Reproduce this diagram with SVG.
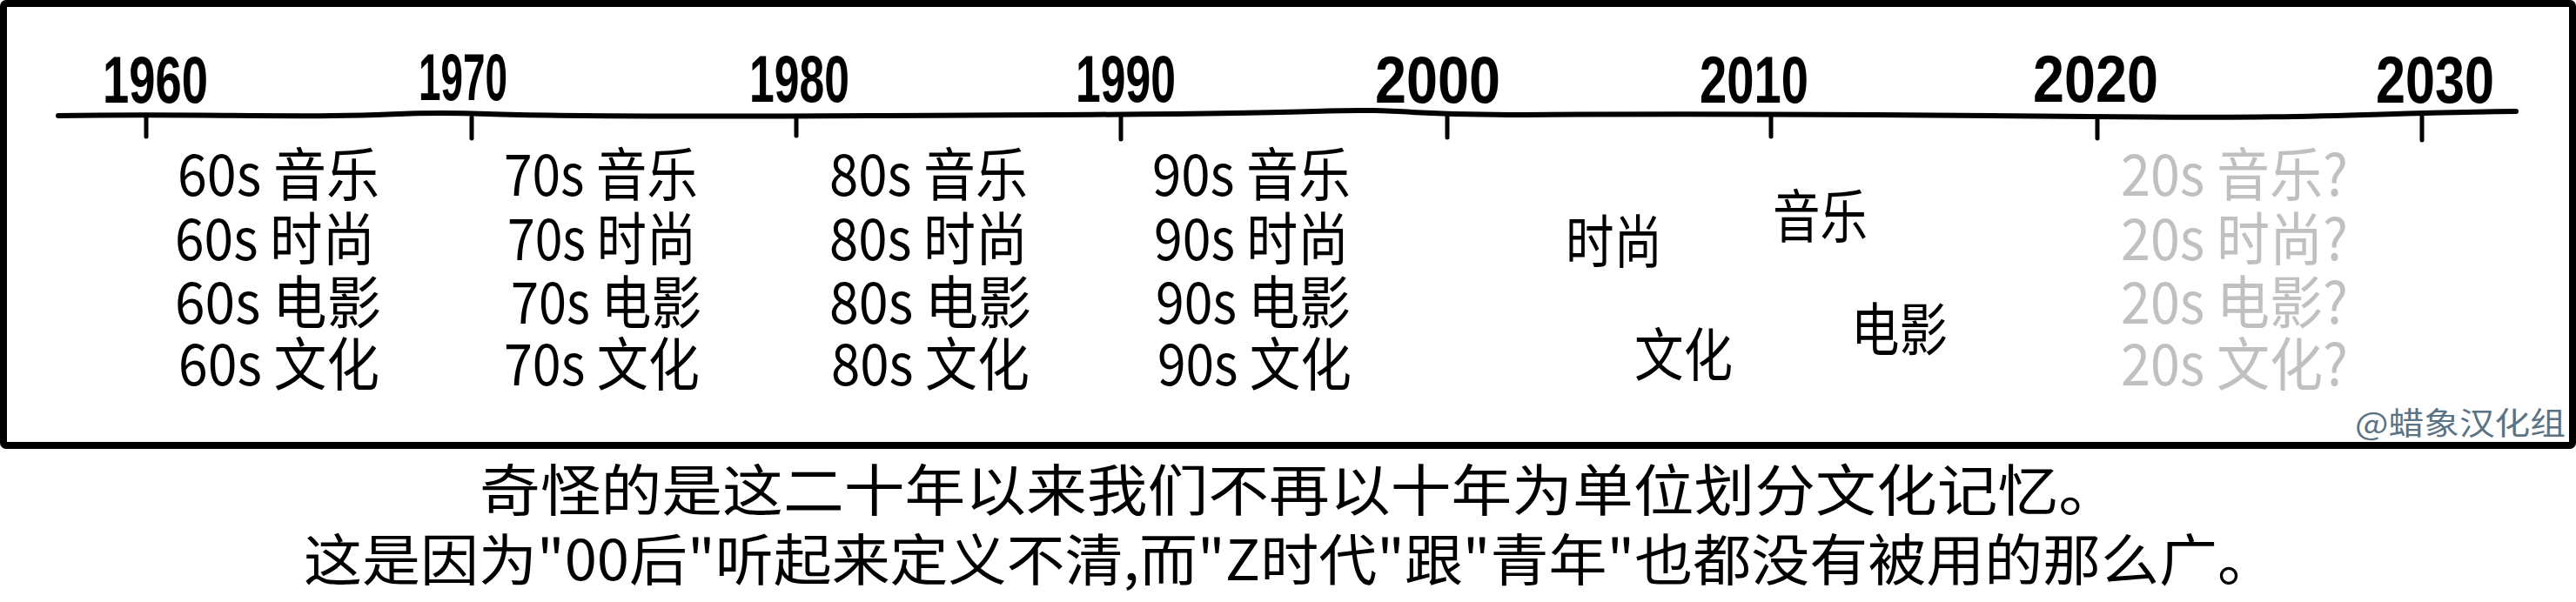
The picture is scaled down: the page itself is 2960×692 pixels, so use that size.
<svg xmlns="http://www.w3.org/2000/svg" width="2960" height="692" viewBox="0 0 2960 692">
<style>
.frame{fill:#fff;stroke:#000;stroke-width:8}
.axis{fill:none;stroke:#000;stroke-width:6;stroke-linecap:round;stroke-linejoin:round}
.tick{stroke:#000;stroke-width:5;stroke-linecap:round}
.yr{font-family:"Liberation Sans","DejaVu Sans",sans-serif;font-weight:bold;font-size:76px;fill:#000}
.t{font-family:"Noto Sans CJK SC","Noto Sans",sans-serif;font-size:66px;fill:#000}
.g{fill:#c0c0c0}
.w{font-family:"Noto Sans CJK SC","Noto Sans",sans-serif;font-size:36px;fill:#5b7383}
.cap{font-family:"Noto Sans CJK SC","Noto Sans",sans-serif;font-size:64px;fill:#000}
</style>
<rect width="2960" height="692" fill="#fff"/>
<rect class="frame" x="4" y="4" width="2952" height="508" rx="3"/>
<g id="timeline">
<path class="axis" d="M67,133 C200,131 300,134 383,133 S470,128 560,131 S800,134 1000,133 S1400,132 1510,128 S1620,133 1750,132 S2100,131 2400,134 S2700,130 2891,128"/>
<line class="tick" x1="168" y1="135" x2="168" y2="157"/>
<line class="tick" x1="542" y1="135" x2="542" y2="159"/>
<line class="tick" x1="915" y1="135" x2="915" y2="156"/>
<line class="tick" x1="1288" y1="135" x2="1288" y2="160"/>
<line class="tick" x1="1663" y1="134" x2="1663" y2="158"/>
<line class="tick" x1="2035" y1="134" x2="2035" y2="157"/>
<line class="tick" x1="2410" y1="135" x2="2410" y2="159"/>
<line class="tick" x1="2783" y1="133" x2="2783" y2="161"/>
</g>
<g id="years">
<text class="yr" x="118" y="118" textLength="121" lengthAdjust="spacingAndGlyphs">1960</text>
<text class="yr" x="481" y="115" textLength="102" lengthAdjust="spacingAndGlyphs">1970</text>
<text class="yr" x="861" y="117" textLength="115" lengthAdjust="spacingAndGlyphs">1980</text>
<text class="yr" x="1236" y="117" textLength="115" lengthAdjust="spacingAndGlyphs">1990</text>
<text class="yr" x="1580" y="118" textLength="144" lengthAdjust="spacingAndGlyphs">2000</text>
<text class="yr" x="1953" y="118" textLength="125" lengthAdjust="spacingAndGlyphs">2010</text>
<text class="yr" x="2336" y="117" textLength="144" lengthAdjust="spacingAndGlyphs">2020</text>
<text class="yr" x="2730" y="118" textLength="136" lengthAdjust="spacingAndGlyphs">2030</text>
</g>
<g id="d60">
<text class="t" x="204" y="225" textLength="232" lengthAdjust="spacingAndGlyphs">60s 音乐</text>
<text class="t" x="201" y="299" textLength="230" lengthAdjust="spacingAndGlyphs">60s 时尚</text>
<text class="t" x="201" y="372" textLength="237" lengthAdjust="spacingAndGlyphs">60s 电影</text>
<text class="t" x="205" y="443" textLength="231" lengthAdjust="spacingAndGlyphs">60s 文化</text>
</g>
<g id="d70">
<text class="t" x="579" y="225" textLength="223" lengthAdjust="spacingAndGlyphs">70s 音乐</text>
<text class="t" x="583" y="299" textLength="217" lengthAdjust="spacingAndGlyphs">70s 时尚</text>
<text class="t" x="587" y="372" textLength="219" lengthAdjust="spacingAndGlyphs">70s 电影</text>
<text class="t" x="579" y="443" textLength="225" lengthAdjust="spacingAndGlyphs">70s 文化</text>
</g>
<g id="d80">
<text class="t" x="953" y="225" textLength="228" lengthAdjust="spacingAndGlyphs">80s 音乐</text>
<text class="t" x="953" y="299" textLength="228" lengthAdjust="spacingAndGlyphs">80s 时尚</text>
<text class="t" x="953" y="372" textLength="232" lengthAdjust="spacingAndGlyphs">80s 电影</text>
<text class="t" x="955" y="443" textLength="228" lengthAdjust="spacingAndGlyphs">80s 文化</text>
</g>
<g id="d90">
<text class="t" x="1324" y="225" textLength="228" lengthAdjust="spacingAndGlyphs">90s 音乐</text>
<text class="t" x="1326" y="299" textLength="224" lengthAdjust="spacingAndGlyphs">90s 时尚</text>
<text class="t" x="1328" y="372" textLength="224" lengthAdjust="spacingAndGlyphs">90s 电影</text>
<text class="t" x="1330" y="443" textLength="223" lengthAdjust="spacingAndGlyphs">90s 文化</text>
</g>
<g id="d00">
<text class="t" x="1799" y="302" textLength="111" lengthAdjust="spacingAndGlyphs">时尚</text>
<text class="t" x="2037" y="273" textLength="109" lengthAdjust="spacingAndGlyphs">音乐</text>
<text class="t" x="1878" y="432" textLength="113" lengthAdjust="spacingAndGlyphs">文化</text>
<text class="t" x="2127" y="403" textLength="111" lengthAdjust="spacingAndGlyphs">电影</text>
</g>
<g id="d20">
<text class="t g" x="2437" y="225" textLength="261" lengthAdjust="spacingAndGlyphs">20s 音乐?</text>
<text class="t g" x="2437" y="299" textLength="261" lengthAdjust="spacingAndGlyphs">20s 时尚?</text>
<text class="t g" x="2437" y="372" textLength="261" lengthAdjust="spacingAndGlyphs">20s 电影?</text>
<text class="t g" x="2437" y="443" textLength="261" lengthAdjust="spacingAndGlyphs">20s 文化?</text>
</g>
<g id="watermark">
<text class="w" x="2706" y="500" textLength="242" lengthAdjust="spacingAndGlyphs">@蜡象汉化组</text>
</g>
<g id="caption">
<text class="cap" x="551" y="587" textLength="1884" lengthAdjust="spacingAndGlyphs">奇怪的是这二十年以来我们不再以十年为单位划分文化记忆。</text>
<text class="cap" x="349" y="667" textLength="2266" lengthAdjust="spacingAndGlyphs">这是因为"00后"听起来定义不清,而"Z时代"跟"青年"也都没有被用的那么广。</text>
</g>
</svg>
